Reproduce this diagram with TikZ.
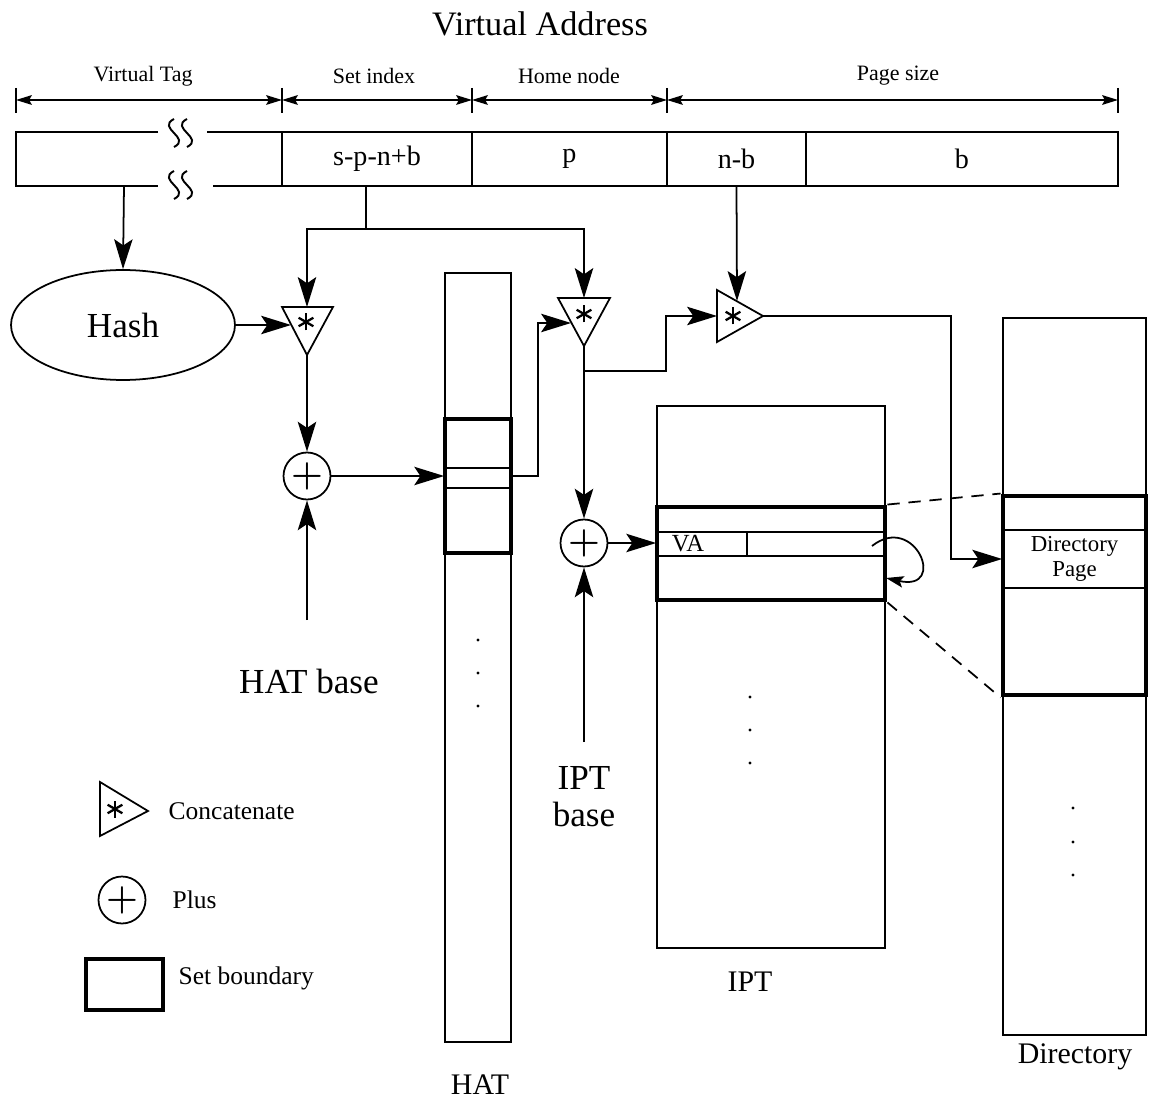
\documentclass[tikz,border=0pt]{standalone}
\usepackage{fontspec}
\setmainfont{Liberation Serif}
\usetikzlibrary{arrows.meta, shapes.geometric, fit}

\begin{document}
\begin{tikzpicture}[x=0.02cm, y=-0.02cm, line width=1pt,
    >={Stealth[length=17pt, width=10.5pt, inset=3.5pt]},
    dimarrow/.style={{Stealth[length=9pt, width=5.5pt, inset=1.5pt]}-{Stealth[length=9pt, width=5.5pt, inset=1.5pt]}},
    boxfit/.style={draw, inner sep=0pt},
    setbox/.style={draw, line width=2.8pt, inner sep=0pt},
    plusop/.style={draw, circle, minimum size=0.94cm, inner sep=0pt, font=\fontsize{21}{21}\selectfont\boldmath},
    spoke/.style={line width=1.3pt},
    dimlabel/.style={font=\fontsize{12.5}{14}\selectfont},
    cellfont/.style={font=\fontsize{16}{18}\selectfont},
    bigfont/.style={font=\fontsize{20}{21}\selectfont},
    tablabel/.style={font=\fontsize{17}{19}\selectfont},
    legendfont/.style={font=\fontsize{14.5}{16}\selectfont, anchor=west}]
    \useasboundingbox (0,0) rectangle (1153,1101);
    % Title
    \node[font=\fontsize{19.5}{22}\selectfont] (title) at (540,24) {Virtual Address};
    % Field widths
    \foreach \x [count=\i from 0] in {16,282,472,667,1118} {
        \draw (\x,88) -- (\x,113);
        \coordinate (d\i) at (\x,100);
    }
    \draw[dimarrow] (d0) -- (d1);
    \draw[dimarrow] (d1) -- (d2);
    \draw[dimarrow] (d2) -- (d3);
    \draw[dimarrow] (d3) -- (d4);
    \node[dimlabel] (ltag) at (143,76) {Virtual Tag};
    \node[dimlabel] (lset) at (374,76) {Set index};
    \node[dimlabel] (lhome) at (569,76) {Home node};
    \node[dimlabel] (lpage) at (898,76) {Page size};
    % Address register
    \draw (158,132) -- (16,132) -- (16,186) -- (158,186);
    \draw (207,132) -- (282,132);
    \draw (213,186) -- (282,186);
    \foreach \y in {133,185}
        \foreach \dx in {0,13}
            \draw[line width=1.1pt] (174+\dx,\y-14) .. controls (156+\dx,\y-5) and (192+\dx,\y+5) .. (174+\dx,\y+14);
    \node[boxfit, fit={(282,132) (472,186)}] (fset) {};
    \node[boxfit, fit={(472,132) (667,186)}] (fhome) {};
    \node[boxfit, fit={(667,132) (806,186)}] (fnb) {};
    \node[boxfit, fit={(806,132) (1118,186)}] (fb) {};
    \node[cellfont] (tset) at (fset.center) {s-p-n+b};
    \node[cellfont] (thome) at (fhome.center) {p};
    \node[cellfont] (tnb) at (fnb.center) {n-b};
    \node[cellfont] (tb) at (fb.center) {b};
    % Hash
    \coordinate (vtag) at (124,186);
    \node[draw, ellipse, minimum width=4.48cm, minimum height=2.2cm, bigfont] (hash) at (123,325) {Hash};
    \draw[->] (vtag) -- (hash.north);
    % Concatenate units
    \draw (282,307) -- (333,307) -- (307,355) -- cycle;
    \coordinate (cat1) at (306,322);
    \coordinate (cat1n) at (307,307);
    \coordinate (cat1w) at (291,325);
    \coordinate (cat1s) at (307,355);
    \draw (558,298) -- (610,298) -- (584,346) -- cycle;
    \coordinate (cat2) at (584,314);
    \coordinate (cat2n) at (584,298);
    \coordinate (cat2w) at (571,323);
    \coordinate (cat2s) at (584,346);
    \draw (717,290) -- (717,342) -- (763,316) -- cycle;
    \coordinate (cat3) at (733,316);
    \coordinate (cat3n) at (737,301);
    \coordinate (cat3w) at (717,316);
    \coordinate (cat3e) at (763,316);
    \draw (100,782) -- (100,836) -- (148,811) -- cycle;
    \coordinate (legcat) at (115,809);
    \foreach \c in {cat1,cat2,cat3,legcat}
        \foreach \a in {90,30,150}
            \draw[spoke] (\c) ++(\a:8.5) -- ++(\a+180:17);
    % Inputs to the concatenate units
    \coordinate (sfork) at (366,229);
    \draw (fset.south -| sfork) -- (sfork);
    \draw[->] (sfork) -| (cat1n);
    \draw[->] (sfork) -| (cat2n);
    \draw[->] (fnb.south) -- (cat3n);
    \draw[->] (hash.east) -- (cat1w);
    % Adders
    \node[plusop] (plus1) at (307,476) {$+$};
    \node[plusop] (plus2) at (584,543) {$+$};
    \coordinate (hatbasept) at (307,620);
    \node[bigfont] (hatbase) at (309,681) {HAT base};
    \coordinate (iptbasept) at (584,742);
    \node[bigfont, align=center] (iptbase) at (584,797) {IPT\\base};
    \draw[->] (cat1s) -- (plus1.north);
    \draw[->] (hatbasept) -- (plus1.south);
    \draw[->] (cat2s) -- (plus2.north);
    \draw[->] (iptbasept) -- (plus2.south);
    % HAT
    \node[boxfit, fit={(445,273) (511,1042)}] (hat) {};
    \node[setbox, fit={(445,419) (511,553)}] (hatset) {};
    \draw (445,468) -- (511,468);
    \draw (445,488) -- (511,488);
    \foreach \y in {640,673,706} \fill (478,\y) circle (1.6);
    \node[tablabel] (hatlabel) at (480,1085) {HAT};
    \draw[->] (plus1.east) -- (plus1 -| hat.west);
    \draw[->] (plus1 -| hat.east) -- ++(26,0) |- (cat2w);
    \coordinate (cat2fork) at (584,371);
    \draw[->] (cat2fork) -- ++(82,0) |- (cat3w);
    % IPT
    \node[boxfit, fit={(657,406) (885,948)}] (ipt) {};
    \node[setbox, fit={(657,507) (885,600)}] (iptset) {};
    \draw (657,532) -- (885,532);
    \draw (657,556) -- (885,556);
    \draw (747,532) -- (747,556);
    \node[font=\fontsize{14}{16}\selectfont] (va) at (688,544) {VA};
    \foreach \y in {697,730,763} \fill (750,\y) circle (1.6);
    \node[tablabel] (iptlabel) at (750,982) {IPT};
    \draw[->] (plus2.east) -- (plus2 -| ipt.west);
    \coordinate (vaptr) at (872,546);
    \coordinate (vanext) at (886,578);
    \draw[->, >={Stealth[length=10pt, width=6.5pt, inset=2pt]}] (vaptr) .. controls (915,512) and (948,592) .. (vanext);
    % Directory
    \node[boxfit, fit={(1003,318) (1146,1035)}] (dir) {};
    \node[setbox, fit={(1003,496) (1146,695)}] (dirset) {};
    \node[boxfit, fit={(1003,530) (1146,588)}] (dirpage) {};
    \node[align=center, font=\fontsize{13}{14.5}\selectfont] (tdirpage) at (dirpage.center) {Directory\\Page};
    \foreach \y in {808,842,875} \fill (1073,\y) circle (1.6);
    \node[tablabel] (dirlabel) at (1075,1057) {Directory};
    \draw[->] (cat3e) -- ++(188,0) |- (dirpage.west);
    \draw[dash pattern=on 7pt off 5pt] (iptset.north east) -- (dirset.north west);
    \draw[dash pattern=on 7pt off 5pt] (iptset.south east) -- (dirset.south west);
    % Legend
    \node[legendfont] (lcat) at (162,811) {Concatenate};
    \node[plusop] (legplus) at (122,900) {$+$};
    \node[legendfont] (lplus) at (166,900) {Plus};
    \node[setbox, fit={(86,959) (163,1010)}] (legset) {};
    \node[legendfont] (lset) at (172,978) {Set boundary};
\end{tikzpicture}
\end{document}
